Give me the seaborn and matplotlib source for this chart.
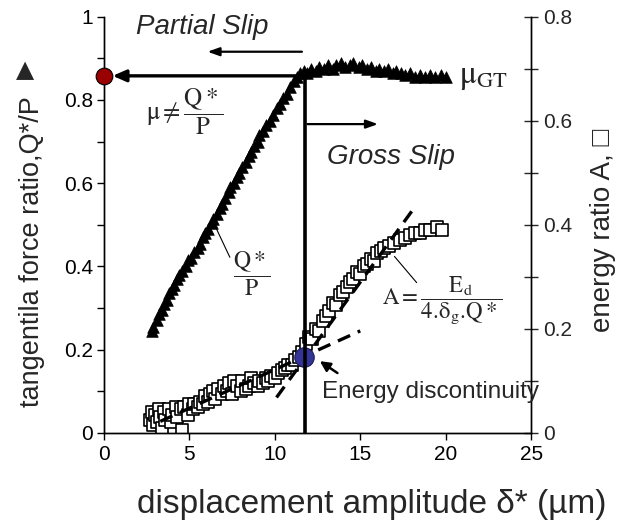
import matplotlib
matplotlib.use("Agg")
import matplotlib.pyplot as plt
from matplotlib.ticker import MultipleLocator
import numpy as np
import pandas as pd
import seaborn as sns

# tangential force ratio Q*/P (triangles, left axis)
tri_x = [2.8, 2.9, 3.1, 3.2, 3.4, 3.5, 3.7, 3.8, 4.0, 4.1, 4.3, 4.4, 4.6, 4.8, 4.9,
         5.1, 5.3, 5.5, 5.6, 5.8, 5.9, 6.1, 6.3, 6.4, 6.6, 6.8, 6.9, 7.1, 7.3, 7.4,
         7.6, 7.8, 7.9, 8.1, 8.3, 8.5, 8.6, 8.8, 9.0, 9.1, 9.3, 9.5, 9.7, 9.9, 10.1,
         10.3, 10.5, 10.7, 10.9, 11.1, 11.3, 11.5, 11.7, 11.9, 12.1, 12.4, 12.6, 12.9,
         13.1, 13.4, 13.6, 13.9, 14.1, 14.4, 14.6, 14.9, 15.1, 15.4, 15.6, 15.9, 16.1,
         16.4, 16.6, 16.9, 17.1, 17.4, 17.6, 17.9, 18.2, 18.5, 18.8, 19.1, 19.4, 19.7, 20.0]
tri_q = [0.245, 0.255, 0.27, 0.285, 0.295, 0.31, 0.32, 0.335, 0.345, 0.355, 0.37, 0.38,
         0.39, 0.40, 0.415, 0.42, 0.435, 0.445, 0.455, 0.47, 0.48, 0.49, 0.505, 0.515,
         0.525, 0.54, 0.55, 0.565, 0.58, 0.59, 0.60, 0.615, 0.625, 0.64, 0.65, 0.665,
         0.675, 0.69, 0.70, 0.715, 0.725, 0.74, 0.75, 0.765, 0.78, 0.79, 0.805, 0.815,
         0.83, 0.845, 0.855, 0.865, 0.87, 0.865, 0.875, 0.87, 0.88, 0.875, 0.885, 0.875,
         0.885, 0.89, 0.88, 0.885, 0.89, 0.88, 0.885, 0.875, 0.88, 0.87, 0.875, 0.87,
         0.875, 0.865, 0.87, 0.865, 0.86, 0.865, 0.855, 0.86, 0.855, 0.86, 0.855, 0.86, 0.855]

# energy ratio A (squares, right axis)
sq_x = [2.7, 2.8, 2.9, 3.0, 3.1, 3.2, 3.3, 3.4, 3.5, 3.6, 3.8, 3.9, 4.0, 4.2, 4.3, 4.5,
        4.6, 4.7, 4.9, 5.0, 5.2, 5.3, 5.5, 5.6, 5.8, 5.9, 6.1, 6.2, 6.4, 6.5, 6.7, 6.9,
        7.0, 7.2, 7.3, 7.5, 7.6, 7.8, 8.0, 8.1, 8.3, 8.5, 8.6, 8.8, 9.0, 9.1, 9.3, 9.5,
        9.6, 9.8, 10.0, 10.2, 10.4, 10.6, 10.8, 11.0, 11.2, 11.4, 11.6, 11.8, 12.0, 12.2,
        12.4, 12.6, 12.8, 13.0, 13.2, 13.4, 13.6, 13.8, 14.0, 14.2, 14.4, 14.6, 14.8,
        15.0, 15.2, 15.4, 15.6, 15.8, 16.0, 16.2, 16.4, 16.7, 17.0, 17.3, 17.6, 17.9,
        18.2, 18.5, 18.8, 19.1, 19.5, 19.8]
sq_a = [0.025, 0.04, 0.015, 0.035, 0.02, 0.045, 0.03, 0.01, 0.04, 0.025, 0.045, 0.02,
        0.035, 0.05, 0.03, 0.045, 0.005, 0.05, 0.035, 0.055, 0.045, 0.055, 0.05, 0.06,
        0.055, 0.07, 0.06, 0.075, 0.08, 0.065, 0.085, 0.075, 0.09, 0.08, 0.095, 0.075,
        0.1, 0.09, 0.08, 0.1, 0.085, 0.09, 0.105, 0.095, 0.09, 0.1, 0.095, 0.105, 0.1,
        0.11, 0.105, 0.115, 0.12, 0.125, 0.13, 0.13, 0.14, 0.145, 0.155, 0.17, 0.185,
        0.18, 0.2, 0.195, 0.215, 0.225, 0.235, 0.25, 0.245, 0.265, 0.27, 0.28, 0.29,
        0.295, 0.31, 0.305, 0.32, 0.325, 0.335, 0.33, 0.345, 0.35, 0.355, 0.36, 0.365,
        0.37, 0.375, 0.38, 0.385, 0.385, 0.39, 0.39, 0.395, 0.39]

# dashed fit lines on the energy ratio (x, A)
fit_low_x = [3.3, 15.0]
fit_low_a = [0.022, 0.196]
fit_high_x = [10.1, 18.1]
fit_high_a = [0.068, 0.43]

# transition point and friction level
delta_t = 11.75
mu_gt = 0.858
disc_x, disc_a = 11.7, 0.146

sns.set_style("ticks")
plt.rcParams["font.family"] = ["Liberation Sans", "DejaVu Sans"]
plt.rcParams["mathtext.fontset"] = "stix"
plt.rcParams["mathtext.default"] = "rm"

fig = plt.figure(figsize=(6.22, 5.24), dpi=100)
ax = fig.add_axes([0.167, 0.174, 0.687, 0.794])
ax2 = ax.twinx()

tri = pd.DataFrame({"x": tri_x, "q": tri_q})
sq = pd.DataFrame({"x": sq_x, "a": sq_a})

sns.scatterplot(data=sq, x="x", y="a", ax=ax2, marker="s", s=75, color="white",
                edgecolor="black", linewidth=1.2, zorder=2)
ax2.plot(fit_low_x, fit_low_a, color="black", lw=2.4, dashes=(4, 2.5), zorder=3)
ax2.plot(fit_high_x, fit_high_a, color="black", lw=2.4, dashes=(4, 2.5), zorder=3)
ax2.plot([disc_x], [disc_a], "o", ms=14, mfc="#343498", mec="#1a1a50", mew=0.8, zorder=5)

sns.scatterplot(data=tri, x="x", y="q", ax=ax, marker="^", s=70, color="black",
                edgecolor="black", linewidth=0.5, zorder=4)

ax.set_zorder(ax2.get_zorder() + 1)
ax.patch.set_visible(False)

# transition lines
ax.plot([delta_t, delta_t], [0, mu_gt], color="black", lw=2.6, zorder=3)
ax.annotate("", xy=(0.35, mu_gt), xytext=(delta_t + 0.1, mu_gt),
            arrowprops=dict(arrowstyle="-|>,head_length=0.8,head_width=0.35", lw=2.4, color="black"))
ax.plot([0], [mu_gt], "o", ms=12, mfc="#990000", mec="black", mew=0.8, clip_on=False, zorder=6)

ax.annotate("", xy=(5.9, 0.916), xytext=(delta_t, 0.916),
            arrowprops=dict(arrowstyle="-|>,head_length=0.7,head_width=0.25", lw=1.6, color="black"))
ax.annotate("", xy=(16.2, 0.742), xytext=(delta_t, 0.742),
            arrowprops=dict(arrowstyle="-|>,head_length=0.7,head_width=0.25", lw=1.6, color="black"))

ax.text(5.73, 0.975, "Partial Slip", fontsize=20, style="italic", ha="center", va="center")
ax.text(16.8, 0.663, "Gross Slip", fontsize=20, style="italic", ha="center", va="center")
ax.text(4.74, 0.771, r"$\mu \neq \dfrac{Q*}{P}$", fontsize=18, ha="center", va="center")
ax.text(20.8, 0.855, r"$\mu_{GT}$", fontsize=23, ha="left", va="center")
ax.text(8.65, 0.381, r"$\dfrac{Q*}{P}$", fontsize=17, ha="center", va="center")
ax.plot([6.6, 7.37], [0.489, 0.422], color="black", lw=0.8, zorder=3)
ax.text(19.8, 0.316, r"$A = \dfrac{E_d}{4.\!\delta_g.\!Q*}$",
        fontsize=16.5, ha="center", va="center")
ax.plot([17.0, 18.3], [0.424, 0.361], color="black", lw=0.8, zorder=3)
ax.text(19.1, 0.099, "Energy discontinuity", fontsize=17.5, ha="center", va="center")
ax.annotate("", xy=(12.5, 0.176), xytext=(13.8, 0.14),
            arrowprops=dict(arrowstyle="-|>,head_length=0.6,head_width=0.3", lw=1.8, color="black"))

ax.set_xlim(0, 25)
ax.set_ylim(0, 1)
ax2.set_ylim(0, 0.8)
ax.xaxis.set_major_locator(MultipleLocator(5))
ax.yaxis.set_minor_locator(MultipleLocator(0.1))
ax2.yaxis.set_minor_locator(MultipleLocator(0.1))
ax.set_yticks([0, 0.2, 0.4, 0.6, 0.8, 1.0], ["0", "0.2", "0.4", "0.6", "0.8", "1"])
ax2.set_yticks([0, 0.2, 0.4, 0.6, 0.8], ["0", "0.2", "0.4", "0.6", "0.8"])

ax.tick_params(axis="both", which="both", direction="out", length=5, width=1,
               labelsize=15, colors="black")
ax.tick_params(axis="y", which="both", pad=3)
ax2.tick_params(axis="y", which="both", direction="inout", length=10, width=1, labelsize=15)
for a in (ax, ax2):
    a.spines["top"].set_visible(False)
    for s in ("left", "right", "bottom"):
        a.spines[s].set_color("black")
        a.spines[s].set_linewidth(1)

ax.set_xlabel("displacement amplitude δ* (µm)", fontsize=24)
ax.xaxis.set_label_coords(0.628, -0.135)
ax.set_ylabel("tangentila force ratio,Q*/P", fontsize=19.5)
ax.yaxis.set_label_coords(-0.138, 0.435)
fig.text(25 / 622, 1 - 70 / 524, "▲", fontsize=17, family="DejaVu Sans", ha="center", va="center")
ax2.set_ylabel("energy ratio A, □", fontsize=20)
ax2.yaxis.set_label_coords(1.137, 0.486)

fig.savefig("out.png", dpi=100)
